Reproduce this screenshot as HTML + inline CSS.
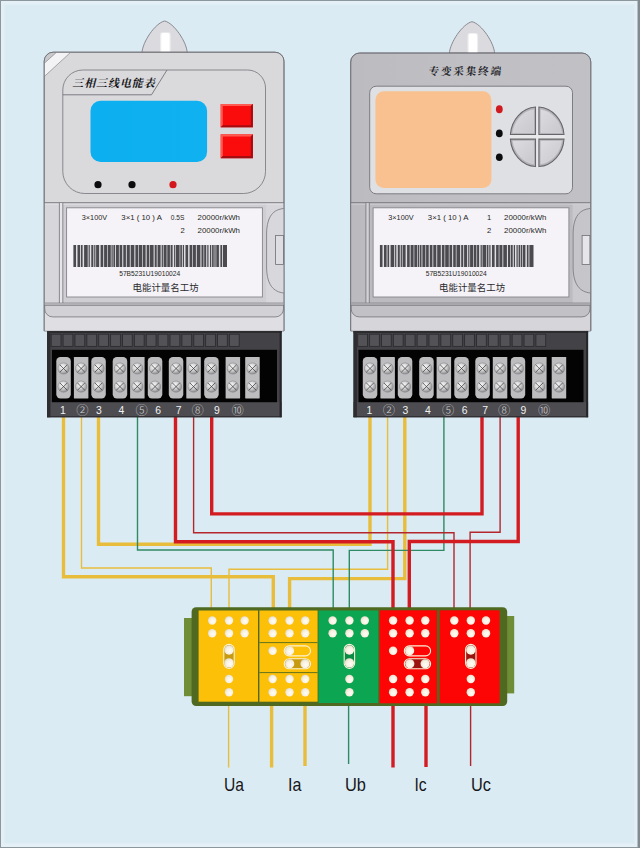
<!DOCTYPE html>
<html lang="zh-CN">
<head>
<meta charset="utf-8">
<title>三相三线电能表 专变采集终端 接线图</title>
<style>
html,body{margin:0;padding:0;background:#dbebf4;}
body{width:640px;height:848px;overflow:hidden;}
svg{display:block;}
.lat{font-family:"Liberation Sans","Noto Sans CJK SC",sans-serif;}
.cjk{font-family:"Liberation Sans","Noto Sans CJK SC",sans-serif;}
.kai{font-family:"Liberation Serif","Noto Serif CJK SC",serif;}
</style>
</head>
<body>
<svg width="640" height="848" viewBox="0 0 640 848">
<defs>
<radialGradient id="screw" cx="40%" cy="35%" r="70%">
<stop offset="0" stop-color="#fafafa"/><stop offset="0.5" stop-color="#cfcfcf"/><stop offset="1" stop-color="#858588"/>
</radialGradient>
<linearGradient id="lcd" x1="0" y1="0" x2="1" y2="0">
<stop offset="0" stop-color="#0cafef"/><stop offset="1" stop-color="#10b1f0"/>
</linearGradient>
<linearGradient id="m2body" x1="0" y1="0" x2="1" y2="0">
<stop offset="0" stop-color="#bcbcc0"/><stop offset="0.5" stop-color="#c0c0c4"/><stop offset="1" stop-color="#c1c1c5"/>
</linearGradient>
<linearGradient id="m2low" x1="0" y1="0" x2="1" y2="0">
<stop offset="0" stop-color="#bbbbbf"/><stop offset="0.5" stop-color="#c3c3c7"/><stop offset="1" stop-color="#cbcbcf"/>
</linearGradient>
<linearGradient id="quad" x1="0" y1="0" x2="1" y2="1">
<stop offset="0" stop-color="#dcdce0"/><stop offset="1" stop-color="#c9c9cd"/>
</linearGradient>
<radialGradient id="dotg" cx="58%" cy="60%" r="62%">
<stop offset="0" stop-color="#fffdf6"/><stop offset="0.6" stop-color="#f8f1e2"/><stop offset="1" stop-color="#e2dccb"/>
</radialGradient>
</defs>

<rect x="0" y="0" width="640" height="848" fill="#dbebf4"/>
<rect x="1" y="1" width="637" height="846" fill="none" stroke="#e4eff6" stroke-width="7"/>
<rect x="0.5" y="0.5" width="639" height="847" fill="none" stroke="#8b969d" stroke-width="1"/>
<rect x="638" y="0" width="2" height="848" fill="#7f8a92"/>
<rect x="637" y="1" width="1" height="846" fill="#b4bfc6"/>
<path d="M63.5 416 V576.8 H273.3 V610" fill="none" stroke="#e8bd3c" stroke-width="3.4" stroke-linejoin="miter"/>
<path d="M81.5 416 V568 H211.3 V610" fill="none" stroke="#e8bd3c" stroke-width="1.4" stroke-linejoin="miter"/>
<path d="M98.5 416 V544.2 H370 V416" fill="none" stroke="#e8bd3c" stroke-width="3.4" stroke-linejoin="miter"/>
<path d="M387.6 416 V569.3 H229 V610" fill="none" stroke="#e8bd3c" stroke-width="1.4" stroke-linejoin="miter"/>
<path d="M404.8 416 V578.6 H289.6 V610" fill="none" stroke="#e8bd3c" stroke-width="3.4" stroke-linejoin="miter"/>
<path d="M137.5 416 V550 H333.2 V610" fill="none" stroke="#2f8a63" stroke-width="1.4" stroke-linejoin="miter"/>
<path d="M443.9 416 V550.4 H349.3 V610" fill="none" stroke="#2f8a63" stroke-width="1.4" stroke-linejoin="miter"/>
<path d="M211.7 416 V513.9 H482 V416" fill="none" stroke="#d31c21" stroke-width="3.4" stroke-linejoin="miter"/>
<path d="M193.6 416 V532.8 H454 V610" fill="none" stroke="#b3262c" stroke-width="1.4" stroke-linejoin="miter"/>
<path d="M175.5 416 V541.8 H393 V610" fill="none" stroke="#d31c21" stroke-width="3.4" stroke-linejoin="miter"/>
<path d="M500.1 416 V532.2 H470.1 V610" fill="none" stroke="#b3262c" stroke-width="1.4" stroke-linejoin="miter"/>
<path d="M518.2 416 V541.5 H409.3 V610" fill="none" stroke="#d31c21" stroke-width="3.4" stroke-linejoin="miter"/>
<path d="M228.6 704 V767.5" fill="none" stroke="#e8bd3c" stroke-width="1.4" stroke-linejoin="miter"/>
<path d="M271.6 704 V767.5" fill="none" stroke="#e8bd3c" stroke-width="3.4" stroke-linejoin="miter"/>
<path d="M305 704 V766" fill="none" stroke="#e8bd3c" stroke-width="3.4" stroke-linejoin="miter"/>
<path d="M348.6 704 V764" fill="none" stroke="#2f8a63" stroke-width="1.4" stroke-linejoin="miter"/>
<path d="M393 704 V767.5" fill="none" stroke="#d31c21" stroke-width="3.4" stroke-linejoin="miter"/>
<path d="M426 704 V767" fill="none" stroke="#d31c21" stroke-width="3.4" stroke-linejoin="miter"/>
<path d="M470.6 704 V766" fill="none" stroke="#b3262c" stroke-width="1.4" stroke-linejoin="miter"/>
<g transform="translate(0,0)">
<g transform="translate(0,0)">
<path d="M142 52.5 C142.6 42 155 23.2 164.6 21 C174.2 23.2 186.6 42 187.2 52.5 Z" fill="#dbdbdf" stroke="#808087" stroke-width="0.9"/>
<path d="M160.1 52 V34.6 a2.4 2.4 0 0 1 2.4 -2.4 h5.8 a2.4 2.4 0 0 1 2.4 2.4 V52 Z" fill="#ededf0"/>
<path d="M161.3 52 V34.8 a1.8 1.8 0 0 1 1.8 -1.8 h4.6 a1.8 1.8 0 0 1 1.8 1.8 V52 Z" fill="#ffffff"/>
</g>
<path d="M44.2 331 V61.2 a9 9 0 0 1 9 -9 H275.0 a9 9 0 0 1 9 9 V331 Z" fill="#d9d9dc" stroke="#737379" stroke-width="0.85"/>
<clipPath id="bodyclip"><rect x="44.7" y="52.7" width="238.8" height="278" rx="8.5" ry="8.5"/></clipPath>
<g clip-path="url(#bodyclip)">
<polygon points="44,63.5 56.8,52 71,52 44,76.8" fill="#f3f3f6"/>
<polygon points="44,52 56.8,52 44,63.5" fill="#c9c9cd"/>
<path d="M44 63.5 L56.8 52 M44 76.8 L71 52" stroke="#88888c" stroke-width="0.7" fill="none"/>
</g>
<path d="M62.8 90 a20 20 0 0 1 20 -20 H247.5 a18 18 0 0 1 18 18 V171.5 a22 22 0 0 1 -22 22 H84.8 a22 22 0 0 1 -22 -22 Z" fill="#dadadd" stroke="#737379" stroke-width="0.8"/>
<path d="M62.8 94.8 H151.5 L167 70" fill="none" stroke="#737379" stroke-width="0.9"/>
<text class="kai" x="72.2" y="87.3" font-size="11" font-weight="700" fill="#141418" textLength="82.5" lengthAdjust="spacing" transform="translate(21.8,0) skewX(-14)">三相三线电能表</text>
<rect x="90.5" y="100.7" width="116.6" height="61.2" rx="10" ry="10" fill="url(#lcd)"/>
<rect x="220.7" y="104.0" width="32.2" height="23.3" fill="#fb0c0c"/>
<path d="M220.7 104.0 h32.2 l-2.1 2.1 h-28 v19.1 l-2.1 2.1 Z" fill="#ff5a52"/>
<path d="M252.9 104.0 v23.3 h-32.2 l2.1 -2.1 h28 v-19.1 Z" fill="#a30d10"/>
<rect x="220.7" y="134.3" width="32.2" height="23.9" fill="#fb0c0c"/>
<path d="M220.7 134.3 h32.2 l-2.1 2.1 h-28 v19.7 l-2.1 2.1 Z" fill="#ff5a52"/>
<path d="M252.9 134.3 v23.9 h-32.2 l2.1 -2.1 h28 v-19.7 Z" fill="#a30d10"/>
<circle cx="98" cy="184.7" r="3.6" fill="#0c0c0e"/>
<circle cx="132" cy="184.7" r="3.6" fill="#0c0c0e"/>
<circle cx="173" cy="184.7" r="3.6" fill="#d3171c"/>
<rect x="44.7" y="202.7" width="238.8" height="101" fill="#d7d7db"/>
<rect x="62.7" y="203" width="203.4" height="100" fill="#cfcfd3"/>
<path d="M44.7 204 H283.5" stroke="#e6e6ea" stroke-width="1"/>
<path d="M44.2 202.7 H284" stroke="#737379" stroke-width="0.9"/>
<rect x="59.4" y="203.2" width="3.4" height="100" fill="#e6e6ea"/>
<path d="M59.4 202.7 V303 M62.8 202.7 V303" stroke="#737379" stroke-width="0.8" fill="none"/>
<rect x="66.6" y="207.8" width="195.8" height="89.2" fill="#f5f3f7" stroke="#85858a" stroke-width="0.9"/>
<path d="M283.7 208.5 C273.5 209.5 267 216 266.6 233 V268 C267 285 273.5 291.8 283.7 293" fill="#d8d8dc" stroke="#737379" stroke-width="0.8"/>
<rect x="275.6" y="235.4" width="7.8" height="29" fill="#dedee2" stroke="#6e6e73" stroke-width="0.8"/>
<rect x="44.7" y="303" width="238.8" height="27.6" fill="#dfdfe3"/>
<path d="M44.7 305 H283.5 V308.9 a8 8 0 0 1 -8 8 H52.7 a8 8 0 0 1 -8 -8 Z" fill="#d2d2d6" stroke="#737379" stroke-width="0.8"/>
<rect x="44.7" y="303.4" width="238.8" height="1.4" fill="#e6e6ea"/>
<path d="M44.7 303.1 H283.5 M44.7 305 H283.5" stroke="#737379" stroke-width="0.8"/>
<path d="M44.2 330.8 V61.2 a9 9 0 0 1 9 -9 H275.0 a9 9 0 0 1 9 9 V330.8" fill="none" stroke="#737379" stroke-width="0.85"/>
<text class="lat" font-size="7.6" fill="#1f1f24" x="81.8" y="220.3" textLength="25.4" lengthAdjust="spacingAndGlyphs">3×100V</text>
<text class="lat" font-size="7.6" fill="#1f1f24" x="121.3" y="220.3" textLength="40.6" lengthAdjust="spacingAndGlyphs">3×1 ( 10 ) A</text>
<text class="lat" font-size="7.6" fill="#1f1f24" x="170.8" y="220.3" textLength="13.6" lengthAdjust="spacingAndGlyphs">0.5S</text>
<text class="lat" font-size="7.6" fill="#1f1f24" x="197.6" y="220.3" textLength="42.4" lengthAdjust="spacingAndGlyphs">20000r/kWh</text>
<text class="lat" font-size="7.6" fill="#1f1f24" x="180.6" y="233">2</text>
<text class="lat" font-size="7.6" fill="#1f1f24" x="197.6" y="233" textLength="42.4" lengthAdjust="spacingAndGlyphs">20000r/kWh</text>
<rect x="73.4" y="245" width="153.6" height="22" fill="#4a4a4f"/><rect x="76.0" y="245" width="1.5" height="22" fill="#dedee3"/><rect x="80.1" y="245" width="0.9" height="22" fill="#dedee3"/><rect x="82.6" y="245" width="1.5" height="22" fill="#dedee3"/><rect x="87.7" y="245" width="0.9" height="22" fill="#dedee3"/><rect x="89.8" y="245" width="1.5" height="22" fill="#dedee3"/><rect x="93.3" y="245" width="0.9" height="22" fill="#dedee3"/><rect x="95.4" y="245" width="0.7" height="22" fill="#dedee3"/><rect x="99.1" y="245" width="1.5" height="22" fill="#dedee3"/><rect x="103.2" y="245" width="0.9" height="22" fill="#dedee3"/><rect x="107.1" y="245" width="0.7" height="22" fill="#dedee3"/><rect x="110.8" y="245" width="0.7" height="22" fill="#dedee3"/><rect x="112.7" y="245" width="0.7" height="22" fill="#dedee3"/><rect x="115.0" y="245" width="0.9" height="22" fill="#dedee3"/><rect x="118.9" y="245" width="0.7" height="22" fill="#dedee3"/><rect x="122.2" y="245" width="1.1" height="22" fill="#dedee3"/><rect x="125.9" y="245" width="0.9" height="22" fill="#dedee3"/><rect x="129.8" y="245" width="0.9" height="22" fill="#dedee3"/><rect x="134.3" y="245" width="1.1" height="22" fill="#dedee3"/><rect x="138.0" y="245" width="0.7" height="22" fill="#dedee3"/><rect x="142.3" y="245" width="0.7" height="22" fill="#dedee3"/><rect x="145.6" y="245" width="1.1" height="22" fill="#dedee3"/><rect x="149.3" y="245" width="0.7" height="22" fill="#dedee3"/><rect x="153.6" y="245" width="1.1" height="22" fill="#dedee3"/><rect x="156.7" y="245" width="0.9" height="22" fill="#dedee3"/><rect x="160.6" y="245" width="1.1" height="22" fill="#dedee3"/><rect x="162.9" y="245" width="0.7" height="22" fill="#dedee3"/><rect x="166.6" y="245" width="0.7" height="22" fill="#dedee3"/><rect x="169.9" y="245" width="0.7" height="22" fill="#dedee3"/><rect x="172.6" y="245" width="1.5" height="22" fill="#dedee3"/><rect x="175.3" y="245" width="0.7" height="22" fill="#dedee3"/><rect x="179.6" y="245" width="0.7" height="22" fill="#dedee3"/><rect x="181.9" y="245" width="0.9" height="22" fill="#dedee3"/><rect x="184.0" y="245" width="1.5" height="22" fill="#dedee3"/><rect x="188.1" y="245" width="1.5" height="22" fill="#dedee3"/><rect x="192.2" y="245" width="0.7" height="22" fill="#dedee3"/><rect x="195.9" y="245" width="0.9" height="22" fill="#dedee3"/><rect x="200.4" y="245" width="1.1" height="22" fill="#dedee3"/><rect x="203.5" y="245" width="0.7" height="22" fill="#dedee3"/><rect x="206.2" y="245" width="1.1" height="22" fill="#dedee3"/><rect x="208.5" y="245" width="1.5" height="22" fill="#dedee3"/><rect x="211.2" y="245" width="0.9" height="22" fill="#dedee3"/><rect x="213.7" y="245" width="0.7" height="22" fill="#dedee3"/><rect x="215.6" y="245" width="0.7" height="22" fill="#dedee3"/><rect x="218.9" y="245" width="1.5" height="22" fill="#dedee3"/><rect x="222.0" y="245" width="0.9" height="22" fill="#dedee3"/>
<text class="lat" font-size="6.9" fill="#1e1e22" x="119.2" y="276" textLength="61" lengthAdjust="spacingAndGlyphs">57B5231U19010024</text>
<text class="cjk" font-size="9.3" fill="#2b2b30" x="132.6" y="291" textLength="66" lengthAdjust="spacingAndGlyphs">电能计量名工坊</text>
<rect x="47" y="331" width="234.6" height="86.2" fill="#434347"/>
<rect x="47" y="402" width="234.6" height="15.2" fill="#4c4c51"/>
<rect x="47" y="331" width="234.6" height="2" fill="#2c2c2f"/>
<rect x="47" y="331" width="3.4" height="86.2" fill="#2e2e31"/>
<rect x="279.6" y="331" width="2" height="86.2" fill="#26262a"/>
<rect x="47" y="416.2" width="234.6" height="1" fill="#2a2a2d"/>
<rect x="51.20" y="334.2" width="9.8" height="12.2" fill="#535357" stroke="#2c2c30" stroke-width="0.9"/>
<rect x="63.08" y="334.2" width="9.8" height="12.2" fill="#535357" stroke="#2c2c30" stroke-width="0.9"/>
<rect x="74.96" y="334.2" width="9.8" height="12.2" fill="#535357" stroke="#2c2c30" stroke-width="0.9"/>
<rect x="86.84" y="334.2" width="9.8" height="12.2" fill="#535357" stroke="#2c2c30" stroke-width="0.9"/>
<rect x="98.72" y="334.2" width="9.8" height="12.2" fill="#535357" stroke="#2c2c30" stroke-width="0.9"/>
<rect x="110.60" y="334.2" width="9.8" height="12.2" fill="#535357" stroke="#2c2c30" stroke-width="0.9"/>
<rect x="122.48" y="334.2" width="9.8" height="12.2" fill="#535357" stroke="#2c2c30" stroke-width="0.9"/>
<rect x="134.36" y="334.2" width="9.8" height="12.2" fill="#535357" stroke="#2c2c30" stroke-width="0.9"/>
<rect x="146.24" y="334.2" width="9.8" height="12.2" fill="#535357" stroke="#2c2c30" stroke-width="0.9"/>
<rect x="158.12" y="334.2" width="9.8" height="12.2" fill="#535357" stroke="#2c2c30" stroke-width="0.9"/>
<rect x="170.00" y="334.2" width="9.8" height="12.2" fill="#535357" stroke="#2c2c30" stroke-width="0.9"/>
<rect x="181.88" y="334.2" width="9.8" height="12.2" fill="#535357" stroke="#2c2c30" stroke-width="0.9"/>
<rect x="193.76" y="334.2" width="9.8" height="12.2" fill="#535357" stroke="#2c2c30" stroke-width="0.9"/>
<rect x="205.64" y="334.2" width="9.8" height="12.2" fill="#535357" stroke="#2c2c30" stroke-width="0.9"/>
<rect x="217.52" y="334.2" width="9.8" height="12.2" fill="#535357" stroke="#2c2c30" stroke-width="0.9"/>
<rect x="229.40" y="334.2" width="9.8" height="12.2" fill="#535357" stroke="#2c2c30" stroke-width="0.9"/>
<rect x="52" y="349.8" width="225" height="52.4" fill="#030303"/>
<rect x="56.3" y="357" width="14.5" height="41.5" rx="4.2" ry="4.2" fill="#bdbdc0"/>
<circle cx="63.55" cy="368.5" r="5.6" fill="url(#screw)" stroke="#7d7d82" stroke-width="0.5"/>
<path d="M59.849999999999994 364.8 l7.4 7.4 M67.25 364.8 l-7.4 7.4" stroke="#3c3c40" stroke-width="0.75" fill="none"/>
<circle cx="63.55" cy="386.6" r="5.6" fill="url(#screw)" stroke="#7d7d82" stroke-width="0.5"/>
<path d="M59.849999999999994 382.90000000000003 l7.4 7.4 M67.25 382.90000000000003 l-7.4 7.4" stroke="#3c3c40" stroke-width="0.75" fill="none"/>
<rect x="73.9" y="357" width="14.5" height="41.5" rx="0.4" ry="0.4" fill="#bdbdc0"/>
<circle cx="81.15" cy="368.5" r="5.6" fill="url(#screw)" stroke="#7d7d82" stroke-width="0.5"/>
<path d="M77.45 364.8 l7.4 7.4 M84.85000000000001 364.8 l-7.4 7.4" stroke="#3c3c40" stroke-width="0.75" fill="none"/>
<circle cx="81.15" cy="386.6" r="5.6" fill="url(#screw)" stroke="#7d7d82" stroke-width="0.5"/>
<path d="M77.45 382.90000000000003 l7.4 7.4 M84.85000000000001 382.90000000000003 l-7.4 7.4" stroke="#3c3c40" stroke-width="0.75" fill="none"/>
<rect x="91.3" y="357" width="14.5" height="41.5" rx="4.2" ry="4.2" fill="#bdbdc0"/>
<circle cx="98.55" cy="368.5" r="5.6" fill="url(#screw)" stroke="#7d7d82" stroke-width="0.5"/>
<path d="M94.85 364.8 l7.4 7.4 M102.25 364.8 l-7.4 7.4" stroke="#3c3c40" stroke-width="0.75" fill="none"/>
<circle cx="98.55" cy="386.6" r="5.6" fill="url(#screw)" stroke="#7d7d82" stroke-width="0.5"/>
<path d="M94.85 382.90000000000003 l7.4 7.4 M102.25 382.90000000000003 l-7.4 7.4" stroke="#3c3c40" stroke-width="0.75" fill="none"/>
<rect x="112.7" y="357" width="14.5" height="41.5" rx="4.2" ry="4.2" fill="#bdbdc0"/>
<circle cx="119.95" cy="368.5" r="5.6" fill="url(#screw)" stroke="#7d7d82" stroke-width="0.5"/>
<path d="M116.25 364.8 l7.4 7.4 M123.65 364.8 l-7.4 7.4" stroke="#3c3c40" stroke-width="0.75" fill="none"/>
<circle cx="119.95" cy="386.6" r="5.6" fill="url(#screw)" stroke="#7d7d82" stroke-width="0.5"/>
<path d="M116.25 382.90000000000003 l7.4 7.4 M123.65 382.90000000000003 l-7.4 7.4" stroke="#3c3c40" stroke-width="0.75" fill="none"/>
<rect x="130.1" y="357" width="14.5" height="41.5" rx="0.4" ry="0.4" fill="#bdbdc0"/>
<circle cx="137.35" cy="368.5" r="5.6" fill="url(#screw)" stroke="#7d7d82" stroke-width="0.5"/>
<path d="M133.65 364.8 l7.4 7.4 M141.04999999999998 364.8 l-7.4 7.4" stroke="#3c3c40" stroke-width="0.75" fill="none"/>
<circle cx="137.35" cy="386.6" r="5.6" fill="url(#screw)" stroke="#7d7d82" stroke-width="0.5"/>
<path d="M133.65 382.90000000000003 l7.4 7.4 M141.04999999999998 382.90000000000003 l-7.4 7.4" stroke="#3c3c40" stroke-width="0.75" fill="none"/>
<rect x="147.8" y="357" width="14.5" height="41.5" rx="4.2" ry="4.2" fill="#bdbdc0"/>
<circle cx="155.05" cy="368.5" r="5.6" fill="url(#screw)" stroke="#7d7d82" stroke-width="0.5"/>
<path d="M151.35000000000002 364.8 l7.4 7.4 M158.75 364.8 l-7.4 7.4" stroke="#3c3c40" stroke-width="0.75" fill="none"/>
<circle cx="155.05" cy="386.6" r="5.6" fill="url(#screw)" stroke="#7d7d82" stroke-width="0.5"/>
<path d="M151.35000000000002 382.90000000000003 l7.4 7.4 M158.75 382.90000000000003 l-7.4 7.4" stroke="#3c3c40" stroke-width="0.75" fill="none"/>
<rect x="168.8" y="357" width="14.5" height="41.5" rx="4.2" ry="4.2" fill="#bdbdc0"/>
<circle cx="176.05" cy="368.5" r="5.6" fill="url(#screw)" stroke="#7d7d82" stroke-width="0.5"/>
<path d="M172.35000000000002 364.8 l7.4 7.4 M179.75 364.8 l-7.4 7.4" stroke="#3c3c40" stroke-width="0.75" fill="none"/>
<circle cx="176.05" cy="386.6" r="5.6" fill="url(#screw)" stroke="#7d7d82" stroke-width="0.5"/>
<path d="M172.35000000000002 382.90000000000003 l7.4 7.4 M179.75 382.90000000000003 l-7.4 7.4" stroke="#3c3c40" stroke-width="0.75" fill="none"/>
<rect x="186.3" y="357" width="14.5" height="41.5" rx="0.4" ry="0.4" fill="#bdbdc0"/>
<circle cx="193.55" cy="368.5" r="5.6" fill="url(#screw)" stroke="#7d7d82" stroke-width="0.5"/>
<path d="M189.85000000000002 364.8 l7.4 7.4 M197.25 364.8 l-7.4 7.4" stroke="#3c3c40" stroke-width="0.75" fill="none"/>
<circle cx="193.55" cy="386.6" r="5.6" fill="url(#screw)" stroke="#7d7d82" stroke-width="0.5"/>
<path d="M189.85000000000002 382.90000000000003 l7.4 7.4 M197.25 382.90000000000003 l-7.4 7.4" stroke="#3c3c40" stroke-width="0.75" fill="none"/>
<rect x="204.2" y="357" width="14.5" height="41.5" rx="4.2" ry="4.2" fill="#bdbdc0"/>
<circle cx="211.45" cy="368.5" r="5.6" fill="url(#screw)" stroke="#7d7d82" stroke-width="0.5"/>
<path d="M207.75 364.8 l7.4 7.4 M215.14999999999998 364.8 l-7.4 7.4" stroke="#3c3c40" stroke-width="0.75" fill="none"/>
<circle cx="211.45" cy="386.6" r="5.6" fill="url(#screw)" stroke="#7d7d82" stroke-width="0.5"/>
<path d="M207.75 382.90000000000003 l7.4 7.4 M215.14999999999998 382.90000000000003 l-7.4 7.4" stroke="#3c3c40" stroke-width="0.75" fill="none"/>
<rect x="225.6" y="357" width="14.5" height="41.5" rx="0.4" ry="0.4" fill="#bdbdc0"/>
<circle cx="232.85" cy="368.5" r="5.6" fill="url(#screw)" stroke="#7d7d82" stroke-width="0.5"/>
<path d="M229.15 364.8 l7.4 7.4 M236.54999999999998 364.8 l-7.4 7.4" stroke="#3c3c40" stroke-width="0.75" fill="none"/>
<circle cx="232.85" cy="386.6" r="5.6" fill="url(#screw)" stroke="#7d7d82" stroke-width="0.5"/>
<path d="M229.15 382.90000000000003 l7.4 7.4 M236.54999999999998 382.90000000000003 l-7.4 7.4" stroke="#3c3c40" stroke-width="0.75" fill="none"/>
<rect x="245.2" y="357" width="14.5" height="41.5" rx="0.4" ry="0.4" fill="#bdbdc0"/>
<circle cx="252.45" cy="368.5" r="5.6" fill="url(#screw)" stroke="#7d7d82" stroke-width="0.5"/>
<path d="M248.75 364.8 l7.4 7.4 M256.15 364.8 l-7.4 7.4" stroke="#3c3c40" stroke-width="0.75" fill="none"/>
<circle cx="252.45" cy="386.6" r="5.6" fill="url(#screw)" stroke="#7d7d82" stroke-width="0.5"/>
<path d="M248.75 382.90000000000003 l7.4 7.4 M256.15 382.90000000000003 l-7.4 7.4" stroke="#3c3c40" stroke-width="0.75" fill="none"/>
<text class="lat" x="63" y="413.6" font-size="10.4" fill="#f2f2f2" text-anchor="middle">1</text>
<text class="lat" x="98.9" y="413.6" font-size="10.4" fill="#f2f2f2" text-anchor="middle">3</text>
<text class="lat" x="121.3" y="413.6" font-size="10.4" fill="#f2f2f2" text-anchor="middle">4</text>
<text class="lat" x="158.2" y="413.6" font-size="10.4" fill="#f2f2f2" text-anchor="middle">6</text>
<text class="lat" x="178.6" y="413.6" font-size="10.4" fill="#f2f2f2" text-anchor="middle">7</text>
<text class="lat" x="216.9" y="413.6" font-size="10.4" fill="#f2f2f2" text-anchor="middle">9</text>
<text class="cjk" x="82.3" y="414.6" font-size="12.3" font-weight="300" fill="#cdcdcd" text-anchor="middle">②</text>
<text class="cjk" x="141.6" y="414.6" font-size="12.3" font-weight="300" fill="#cdcdcd" text-anchor="middle">⑤</text>
<text class="cjk" x="197.6" y="414.6" font-size="12.3" font-weight="300" fill="#cdcdcd" text-anchor="middle">⑧</text>
<text class="cjk" x="237.7" y="414.6" font-size="12.3" font-weight="300" fill="#cdcdcd" text-anchor="middle">⑩</text>
</g>
<g transform="translate(306.5,0)">
<g transform="translate(0.9,0.7)">
<path d="M142 52.5 C142.6 42 155 23.2 164.6 21 C174.2 23.2 186.6 42 187.2 52.5 Z" fill="#dbdbdf" stroke="#808087" stroke-width="0.9"/>
<path d="M160.1 52 V34.6 a2.4 2.4 0 0 1 2.4 -2.4 h5.8 a2.4 2.4 0 0 1 2.4 2.4 V52 Z" fill="#ededf0"/>
<path d="M161.3 52 V34.8 a1.8 1.8 0 0 1 1.8 -1.8 h4.6 a1.8 1.8 0 0 1 1.8 1.8 V52 Z" fill="#ffffff"/>
</g>
<path d="M44.2 331 V62.0 a9 9 0 0 1 9 -9 H275.3 a9 9 0 0 1 9 9 V331 Z" fill="url(#m2body)" stroke="#737379" stroke-width="0.85"/>
<text class="kai" x="122.2" y="74.8" font-size="10.6" font-weight="700" fill="#26262b" textLength="72.4" lengthAdjust="spacing" transform="translate(7.5,0) skewX(-6)">专变采集终端</text>
<rect x="63.2" y="86.2" width="202.8" height="107.6" rx="6.5" ry="6.5" fill="#dfe0e4" stroke="#737379" stroke-width="0.9"/>
<rect x="68.9" y="91.3" width="116" height="96.8" rx="8.5" ry="8.5" fill="#f9c190"/>
<ellipse cx="192.8" cy="109.2" rx="3.4" ry="4" fill="#cf1b1f"/>
<ellipse cx="192.8" cy="133.4" rx="3.4" ry="3.8" fill="#0c0c0e"/>
<ellipse cx="192.8" cy="157.2" rx="3.4" ry="3.8" fill="#0c0c0e"/>
<ellipse cx="230.7" cy="136.8" rx="27.9" ry="30.8" fill="#e8e8eb"/>
<path d="M229.00 134.50 L203.88 134.50 A26.90 29.80 0 0 1 229.00 107.06 Z" fill="#b4b4b8" stroke="#66666b" stroke-width="1.1"/>
<path d="M227.00 132.50 L206.31 132.50 A24.70 27.36 0 0 1 227.00 109.75 Z" fill="url(#quad)" stroke="#dcdce0" stroke-width="0.5"/>
<path d="M232.40 134.50 L257.52 134.50 A26.90 29.80 0 0 0 232.40 107.06 Z" fill="#b4b4b8" stroke="#66666b" stroke-width="1.1"/>
<path d="M234.40 132.50 L255.09 132.50 A24.70 27.36 0 0 0 234.40 109.75 Z" fill="url(#quad)" stroke="#dcdce0" stroke-width="0.5"/>
<path d="M229.00 139.10 L203.88 139.10 A26.90 29.80 0 0 0 229.00 166.54 Z" fill="#b4b4b8" stroke="#66666b" stroke-width="1.1"/>
<path d="M227.00 141.10 L206.31 141.10 A24.70 27.36 0 0 0 227.00 163.85 Z" fill="url(#quad)" stroke="#dcdce0" stroke-width="0.5"/>
<path d="M232.40 139.10 L257.52 139.10 A26.90 29.80 0 0 1 232.40 166.54 Z" fill="#b4b4b8" stroke="#66666b" stroke-width="1.1"/>
<path d="M234.40 141.10 L255.09 141.10 A24.70 27.36 0 0 1 234.40 163.85 Z" fill="url(#quad)" stroke="#dcdce0" stroke-width="0.5"/>
<rect x="44.7" y="202.7" width="238.8" height="101" fill="url(#m2low)"/>
<rect x="62.7" y="203" width="203.4" height="100" fill="#bcbcc0"/>
<path d="M44.7 204 H283.5" stroke="#d2d2d6" stroke-width="1"/>
<path d="M44.2 202.7 H284" stroke="#737379" stroke-width="0.9"/>
<rect x="59.4" y="203.2" width="3.4" height="100" fill="#d2d2d6"/>
<path d="M59.4 202.7 V303 M62.8 202.7 V303" stroke="#737379" stroke-width="0.8" fill="none"/>
<rect x="66.6" y="207.8" width="195.8" height="89.2" fill="#f5f3f7" stroke="#85858a" stroke-width="0.9"/>
<path d="M283.7 208.5 C273.5 209.5 267 216 266.6 233 V268 C267 285 273.5 291.8 283.7 293" fill="#c6c6ca" stroke="#737379" stroke-width="0.8"/>
<rect x="275.6" y="235.4" width="7.8" height="29" fill="#e6e6ea" stroke="#6e6e73" stroke-width="0.8"/>
<rect x="44.7" y="303" width="238.8" height="27.6" fill="#d6d6da"/>
<path d="M44.7 305 H283.5 V308.9 a8 8 0 0 1 -8 8 H52.7 a8 8 0 0 1 -8 -8 Z" fill="#c2c2c6" stroke="#737379" stroke-width="0.8"/>
<rect x="44.7" y="303.4" width="238.8" height="1.4" fill="#d2d2d6"/>
<path d="M44.7 303.1 H283.5 M44.7 305 H283.5" stroke="#737379" stroke-width="0.8"/>
<path d="M44.2 330.8 V62.0 a9 9 0 0 1 9 -9 H275.3 a9 9 0 0 1 9 9 V330.8" fill="none" stroke="#737379" stroke-width="0.85"/>
<text class="lat" font-size="7.6" fill="#1f1f24" x="81.8" y="220.3" textLength="25.4" lengthAdjust="spacingAndGlyphs">3×100V</text>
<text class="lat" font-size="7.6" fill="#1f1f24" x="121.3" y="220.3" textLength="40.6" lengthAdjust="spacingAndGlyphs">3×1 ( 10 ) A</text>
<text class="lat" font-size="7.6" fill="#1f1f24" x="180.6" y="220.3">1</text>
<text class="lat" font-size="7.6" fill="#1f1f24" x="197.6" y="220.3" textLength="42.4" lengthAdjust="spacingAndGlyphs">20000r/kWh</text>
<text class="lat" font-size="7.6" fill="#1f1f24" x="180.6" y="233">2</text>
<text class="lat" font-size="7.6" fill="#1f1f24" x="197.6" y="233" textLength="42.4" lengthAdjust="spacingAndGlyphs">20000r/kWh</text>
<rect x="73.4" y="245" width="153.6" height="22" fill="#4a4a4f"/><rect x="76.0" y="245" width="1.5" height="22" fill="#dedee3"/><rect x="80.1" y="245" width="0.9" height="22" fill="#dedee3"/><rect x="82.6" y="245" width="1.5" height="22" fill="#dedee3"/><rect x="87.7" y="245" width="0.9" height="22" fill="#dedee3"/><rect x="89.8" y="245" width="1.5" height="22" fill="#dedee3"/><rect x="93.3" y="245" width="0.9" height="22" fill="#dedee3"/><rect x="95.4" y="245" width="0.7" height="22" fill="#dedee3"/><rect x="99.1" y="245" width="1.5" height="22" fill="#dedee3"/><rect x="103.2" y="245" width="0.9" height="22" fill="#dedee3"/><rect x="107.1" y="245" width="0.7" height="22" fill="#dedee3"/><rect x="110.8" y="245" width="0.7" height="22" fill="#dedee3"/><rect x="112.7" y="245" width="0.7" height="22" fill="#dedee3"/><rect x="115.0" y="245" width="0.9" height="22" fill="#dedee3"/><rect x="118.9" y="245" width="0.7" height="22" fill="#dedee3"/><rect x="122.2" y="245" width="1.1" height="22" fill="#dedee3"/><rect x="125.9" y="245" width="0.9" height="22" fill="#dedee3"/><rect x="129.8" y="245" width="0.9" height="22" fill="#dedee3"/><rect x="134.3" y="245" width="1.1" height="22" fill="#dedee3"/><rect x="138.0" y="245" width="0.7" height="22" fill="#dedee3"/><rect x="142.3" y="245" width="0.7" height="22" fill="#dedee3"/><rect x="145.6" y="245" width="1.1" height="22" fill="#dedee3"/><rect x="149.3" y="245" width="0.7" height="22" fill="#dedee3"/><rect x="153.6" y="245" width="1.1" height="22" fill="#dedee3"/><rect x="156.7" y="245" width="0.9" height="22" fill="#dedee3"/><rect x="160.6" y="245" width="1.1" height="22" fill="#dedee3"/><rect x="162.9" y="245" width="0.7" height="22" fill="#dedee3"/><rect x="166.6" y="245" width="0.7" height="22" fill="#dedee3"/><rect x="169.9" y="245" width="0.7" height="22" fill="#dedee3"/><rect x="172.6" y="245" width="1.5" height="22" fill="#dedee3"/><rect x="175.3" y="245" width="0.7" height="22" fill="#dedee3"/><rect x="179.6" y="245" width="0.7" height="22" fill="#dedee3"/><rect x="181.9" y="245" width="0.9" height="22" fill="#dedee3"/><rect x="184.0" y="245" width="1.5" height="22" fill="#dedee3"/><rect x="188.1" y="245" width="1.5" height="22" fill="#dedee3"/><rect x="192.2" y="245" width="0.7" height="22" fill="#dedee3"/><rect x="195.9" y="245" width="0.9" height="22" fill="#dedee3"/><rect x="200.4" y="245" width="1.1" height="22" fill="#dedee3"/><rect x="203.5" y="245" width="0.7" height="22" fill="#dedee3"/><rect x="206.2" y="245" width="1.1" height="22" fill="#dedee3"/><rect x="208.5" y="245" width="1.5" height="22" fill="#dedee3"/><rect x="211.2" y="245" width="0.9" height="22" fill="#dedee3"/><rect x="213.7" y="245" width="0.7" height="22" fill="#dedee3"/><rect x="215.6" y="245" width="0.7" height="22" fill="#dedee3"/><rect x="218.9" y="245" width="1.5" height="22" fill="#dedee3"/><rect x="222.0" y="245" width="0.9" height="22" fill="#dedee3"/>
<text class="lat" font-size="6.9" fill="#1e1e22" x="119.2" y="276" textLength="61" lengthAdjust="spacingAndGlyphs">57B5231U19010024</text>
<text class="cjk" font-size="9.3" fill="#2b2b30" x="132.6" y="291" textLength="66" lengthAdjust="spacingAndGlyphs">电能计量名工坊</text>
<rect x="47" y="331" width="234.6" height="86.2" fill="#434347"/>
<rect x="47" y="402" width="234.6" height="15.2" fill="#4c4c51"/>
<rect x="47" y="331" width="234.6" height="2" fill="#2c2c2f"/>
<rect x="47" y="331" width="3.4" height="86.2" fill="#2e2e31"/>
<rect x="279.6" y="331" width="2" height="86.2" fill="#26262a"/>
<rect x="47" y="416.2" width="234.6" height="1" fill="#2a2a2d"/>
<rect x="51.20" y="334.2" width="9.8" height="12.2" fill="#535357" stroke="#2c2c30" stroke-width="0.9"/>
<rect x="63.08" y="334.2" width="9.8" height="12.2" fill="#535357" stroke="#2c2c30" stroke-width="0.9"/>
<rect x="74.96" y="334.2" width="9.8" height="12.2" fill="#535357" stroke="#2c2c30" stroke-width="0.9"/>
<rect x="86.84" y="334.2" width="9.8" height="12.2" fill="#535357" stroke="#2c2c30" stroke-width="0.9"/>
<rect x="98.72" y="334.2" width="9.8" height="12.2" fill="#535357" stroke="#2c2c30" stroke-width="0.9"/>
<rect x="110.60" y="334.2" width="9.8" height="12.2" fill="#535357" stroke="#2c2c30" stroke-width="0.9"/>
<rect x="122.48" y="334.2" width="9.8" height="12.2" fill="#535357" stroke="#2c2c30" stroke-width="0.9"/>
<rect x="134.36" y="334.2" width="9.8" height="12.2" fill="#535357" stroke="#2c2c30" stroke-width="0.9"/>
<rect x="146.24" y="334.2" width="9.8" height="12.2" fill="#535357" stroke="#2c2c30" stroke-width="0.9"/>
<rect x="158.12" y="334.2" width="9.8" height="12.2" fill="#535357" stroke="#2c2c30" stroke-width="0.9"/>
<rect x="170.00" y="334.2" width="9.8" height="12.2" fill="#535357" stroke="#2c2c30" stroke-width="0.9"/>
<rect x="181.88" y="334.2" width="9.8" height="12.2" fill="#535357" stroke="#2c2c30" stroke-width="0.9"/>
<rect x="193.76" y="334.2" width="9.8" height="12.2" fill="#535357" stroke="#2c2c30" stroke-width="0.9"/>
<rect x="205.64" y="334.2" width="9.8" height="12.2" fill="#535357" stroke="#2c2c30" stroke-width="0.9"/>
<rect x="217.52" y="334.2" width="9.8" height="12.2" fill="#535357" stroke="#2c2c30" stroke-width="0.9"/>
<rect x="229.40" y="334.2" width="9.8" height="12.2" fill="#535357" stroke="#2c2c30" stroke-width="0.9"/>
<rect x="52" y="349.8" width="225" height="52.4" fill="#030303"/>
<rect x="56.3" y="357" width="14.5" height="41.5" rx="4.2" ry="4.2" fill="#bdbdc0"/>
<circle cx="63.55" cy="368.5" r="5.6" fill="url(#screw)" stroke="#7d7d82" stroke-width="0.5"/>
<path d="M59.849999999999994 364.8 l7.4 7.4 M67.25 364.8 l-7.4 7.4" stroke="#3c3c40" stroke-width="0.75" fill="none"/>
<circle cx="63.55" cy="386.6" r="5.6" fill="url(#screw)" stroke="#7d7d82" stroke-width="0.5"/>
<path d="M59.849999999999994 382.90000000000003 l7.4 7.4 M67.25 382.90000000000003 l-7.4 7.4" stroke="#3c3c40" stroke-width="0.75" fill="none"/>
<rect x="73.9" y="357" width="14.5" height="41.5" rx="0.4" ry="0.4" fill="#bdbdc0"/>
<circle cx="81.15" cy="368.5" r="5.6" fill="url(#screw)" stroke="#7d7d82" stroke-width="0.5"/>
<path d="M77.45 364.8 l7.4 7.4 M84.85000000000001 364.8 l-7.4 7.4" stroke="#3c3c40" stroke-width="0.75" fill="none"/>
<circle cx="81.15" cy="386.6" r="5.6" fill="url(#screw)" stroke="#7d7d82" stroke-width="0.5"/>
<path d="M77.45 382.90000000000003 l7.4 7.4 M84.85000000000001 382.90000000000003 l-7.4 7.4" stroke="#3c3c40" stroke-width="0.75" fill="none"/>
<rect x="91.3" y="357" width="14.5" height="41.5" rx="4.2" ry="4.2" fill="#bdbdc0"/>
<circle cx="98.55" cy="368.5" r="5.6" fill="url(#screw)" stroke="#7d7d82" stroke-width="0.5"/>
<path d="M94.85 364.8 l7.4 7.4 M102.25 364.8 l-7.4 7.4" stroke="#3c3c40" stroke-width="0.75" fill="none"/>
<circle cx="98.55" cy="386.6" r="5.6" fill="url(#screw)" stroke="#7d7d82" stroke-width="0.5"/>
<path d="M94.85 382.90000000000003 l7.4 7.4 M102.25 382.90000000000003 l-7.4 7.4" stroke="#3c3c40" stroke-width="0.75" fill="none"/>
<rect x="112.7" y="357" width="14.5" height="41.5" rx="4.2" ry="4.2" fill="#bdbdc0"/>
<circle cx="119.95" cy="368.5" r="5.6" fill="url(#screw)" stroke="#7d7d82" stroke-width="0.5"/>
<path d="M116.25 364.8 l7.4 7.4 M123.65 364.8 l-7.4 7.4" stroke="#3c3c40" stroke-width="0.75" fill="none"/>
<circle cx="119.95" cy="386.6" r="5.6" fill="url(#screw)" stroke="#7d7d82" stroke-width="0.5"/>
<path d="M116.25 382.90000000000003 l7.4 7.4 M123.65 382.90000000000003 l-7.4 7.4" stroke="#3c3c40" stroke-width="0.75" fill="none"/>
<rect x="130.1" y="357" width="14.5" height="41.5" rx="0.4" ry="0.4" fill="#bdbdc0"/>
<circle cx="137.35" cy="368.5" r="5.6" fill="url(#screw)" stroke="#7d7d82" stroke-width="0.5"/>
<path d="M133.65 364.8 l7.4 7.4 M141.04999999999998 364.8 l-7.4 7.4" stroke="#3c3c40" stroke-width="0.75" fill="none"/>
<circle cx="137.35" cy="386.6" r="5.6" fill="url(#screw)" stroke="#7d7d82" stroke-width="0.5"/>
<path d="M133.65 382.90000000000003 l7.4 7.4 M141.04999999999998 382.90000000000003 l-7.4 7.4" stroke="#3c3c40" stroke-width="0.75" fill="none"/>
<rect x="147.8" y="357" width="14.5" height="41.5" rx="4.2" ry="4.2" fill="#bdbdc0"/>
<circle cx="155.05" cy="368.5" r="5.6" fill="url(#screw)" stroke="#7d7d82" stroke-width="0.5"/>
<path d="M151.35000000000002 364.8 l7.4 7.4 M158.75 364.8 l-7.4 7.4" stroke="#3c3c40" stroke-width="0.75" fill="none"/>
<circle cx="155.05" cy="386.6" r="5.6" fill="url(#screw)" stroke="#7d7d82" stroke-width="0.5"/>
<path d="M151.35000000000002 382.90000000000003 l7.4 7.4 M158.75 382.90000000000003 l-7.4 7.4" stroke="#3c3c40" stroke-width="0.75" fill="none"/>
<rect x="168.8" y="357" width="14.5" height="41.5" rx="4.2" ry="4.2" fill="#bdbdc0"/>
<circle cx="176.05" cy="368.5" r="5.6" fill="url(#screw)" stroke="#7d7d82" stroke-width="0.5"/>
<path d="M172.35000000000002 364.8 l7.4 7.4 M179.75 364.8 l-7.4 7.4" stroke="#3c3c40" stroke-width="0.75" fill="none"/>
<circle cx="176.05" cy="386.6" r="5.6" fill="url(#screw)" stroke="#7d7d82" stroke-width="0.5"/>
<path d="M172.35000000000002 382.90000000000003 l7.4 7.4 M179.75 382.90000000000003 l-7.4 7.4" stroke="#3c3c40" stroke-width="0.75" fill="none"/>
<rect x="186.3" y="357" width="14.5" height="41.5" rx="0.4" ry="0.4" fill="#bdbdc0"/>
<circle cx="193.55" cy="368.5" r="5.6" fill="url(#screw)" stroke="#7d7d82" stroke-width="0.5"/>
<path d="M189.85000000000002 364.8 l7.4 7.4 M197.25 364.8 l-7.4 7.4" stroke="#3c3c40" stroke-width="0.75" fill="none"/>
<circle cx="193.55" cy="386.6" r="5.6" fill="url(#screw)" stroke="#7d7d82" stroke-width="0.5"/>
<path d="M189.85000000000002 382.90000000000003 l7.4 7.4 M197.25 382.90000000000003 l-7.4 7.4" stroke="#3c3c40" stroke-width="0.75" fill="none"/>
<rect x="204.2" y="357" width="14.5" height="41.5" rx="4.2" ry="4.2" fill="#bdbdc0"/>
<circle cx="211.45" cy="368.5" r="5.6" fill="url(#screw)" stroke="#7d7d82" stroke-width="0.5"/>
<path d="M207.75 364.8 l7.4 7.4 M215.14999999999998 364.8 l-7.4 7.4" stroke="#3c3c40" stroke-width="0.75" fill="none"/>
<circle cx="211.45" cy="386.6" r="5.6" fill="url(#screw)" stroke="#7d7d82" stroke-width="0.5"/>
<path d="M207.75 382.90000000000003 l7.4 7.4 M215.14999999999998 382.90000000000003 l-7.4 7.4" stroke="#3c3c40" stroke-width="0.75" fill="none"/>
<rect x="225.6" y="357" width="14.5" height="41.5" rx="0.4" ry="0.4" fill="#bdbdc0"/>
<circle cx="232.85" cy="368.5" r="5.6" fill="url(#screw)" stroke="#7d7d82" stroke-width="0.5"/>
<path d="M229.15 364.8 l7.4 7.4 M236.54999999999998 364.8 l-7.4 7.4" stroke="#3c3c40" stroke-width="0.75" fill="none"/>
<circle cx="232.85" cy="386.6" r="5.6" fill="url(#screw)" stroke="#7d7d82" stroke-width="0.5"/>
<path d="M229.15 382.90000000000003 l7.4 7.4 M236.54999999999998 382.90000000000003 l-7.4 7.4" stroke="#3c3c40" stroke-width="0.75" fill="none"/>
<rect x="245.2" y="357" width="14.5" height="41.5" rx="0.4" ry="0.4" fill="#bdbdc0"/>
<circle cx="252.45" cy="368.5" r="5.6" fill="url(#screw)" stroke="#7d7d82" stroke-width="0.5"/>
<path d="M248.75 364.8 l7.4 7.4 M256.15 364.8 l-7.4 7.4" stroke="#3c3c40" stroke-width="0.75" fill="none"/>
<circle cx="252.45" cy="386.6" r="5.6" fill="url(#screw)" stroke="#7d7d82" stroke-width="0.5"/>
<path d="M248.75 382.90000000000003 l7.4 7.4 M256.15 382.90000000000003 l-7.4 7.4" stroke="#3c3c40" stroke-width="0.75" fill="none"/>
<text class="lat" x="63" y="413.6" font-size="10.4" fill="#f2f2f2" text-anchor="middle">1</text>
<text class="lat" x="98.9" y="413.6" font-size="10.4" fill="#f2f2f2" text-anchor="middle">3</text>
<text class="lat" x="121.3" y="413.6" font-size="10.4" fill="#f2f2f2" text-anchor="middle">4</text>
<text class="lat" x="158.2" y="413.6" font-size="10.4" fill="#f2f2f2" text-anchor="middle">6</text>
<text class="lat" x="178.6" y="413.6" font-size="10.4" fill="#f2f2f2" text-anchor="middle">7</text>
<text class="lat" x="216.9" y="413.6" font-size="10.4" fill="#f2f2f2" text-anchor="middle">9</text>
<text class="cjk" x="82.3" y="414.6" font-size="12.3" font-weight="300" fill="#cdcdcd" text-anchor="middle">②</text>
<text class="cjk" x="141.6" y="414.6" font-size="12.3" font-weight="300" fill="#cdcdcd" text-anchor="middle">⑤</text>
<text class="cjk" x="197.6" y="414.6" font-size="12.3" font-weight="300" fill="#cdcdcd" text-anchor="middle">⑧</text>
<text class="cjk" x="237.7" y="414.6" font-size="12.3" font-weight="300" fill="#cdcdcd" text-anchor="middle">⑩</text>
</g>
<rect x="184" y="618" width="9" height="78.2" fill="#6f8c36"/>
<rect x="505" y="616" width="9.2" height="77.4" fill="#6f8c36"/>
<rect x="191.6" y="607.2" width="315.6" height="98.8" rx="4.5" ry="4.5" fill="#4f6a20"/>
<rect x="198.6" y="610.5" width="59.4" height="91.20000000000005" fill="#fcc008"/>
<rect x="259.4" y="610.5" width="58.2" height="91.20000000000005" fill="#fcc008"/>
<path d="M259.4 642.6 H317.6 M259.4 672.6 H317.6" stroke="#4f6a20" stroke-width="0.9"/>
<rect x="318.4" y="610.5" width="59.8" height="92.5" fill="#0ca551"/>
<rect x="379.6" y="610.3" width="57.4" height="92.99999999999996" fill="#fe0505"/>
<rect x="439.6" y="610.3" width="60" height="92.99999999999996" fill="#fe0505"/>
<circle cx="212.2" cy="620.5" r="4.2" fill="url(#dotg)"/><circle cx="229" cy="620.5" r="4.2" fill="url(#dotg)"/><circle cx="244.6" cy="620.5" r="4.2" fill="url(#dotg)"/><circle cx="212.2" cy="633.2" r="4.2" fill="url(#dotg)"/><circle cx="229" cy="633.2" r="4.2" fill="url(#dotg)"/><circle cx="244.6" cy="633.2" r="4.2" fill="url(#dotg)"/><rect x="223.8" y="644.4" width="10.4" height="24" rx="5.2" ry="5.2" fill="#c79a10" stroke="#fbf3d8" stroke-width="1.1"/><circle cx="229" cy="650.0" r="4.7" fill="url(#dotg)"/><circle cx="229" cy="662.9" r="4.7" fill="url(#dotg)"/><circle cx="229" cy="679.0" r="4.2" fill="url(#dotg)"/><circle cx="229" cy="692.2" r="4.2" fill="url(#dotg)"/>
<circle cx="272.6" cy="620.5" r="4.2" fill="url(#dotg)"/><circle cx="289.5" cy="620.5" r="4.2" fill="url(#dotg)"/><circle cx="305.2" cy="620.5" r="4.2" fill="url(#dotg)"/><circle cx="272.6" cy="633.2" r="4.2" fill="url(#dotg)"/><circle cx="289.5" cy="633.2" r="4.2" fill="url(#dotg)"/><circle cx="305.2" cy="633.2" r="4.2" fill="url(#dotg)"/><circle cx="272.6" cy="679.0" r="4.2" fill="url(#dotg)"/><circle cx="289.5" cy="679.0" r="4.2" fill="url(#dotg)"/><circle cx="305.2" cy="679.0" r="4.2" fill="url(#dotg)"/><circle cx="272.6" cy="692.2" r="4.2" fill="url(#dotg)"/><circle cx="289.5" cy="692.2" r="4.2" fill="url(#dotg)"/><circle cx="305.2" cy="692.2" r="4.2" fill="url(#dotg)"/><circle cx="272.6" cy="650.8" r="4.2" fill="url(#dotg)"/><rect x="284.2" y="645.9" width="26.29999999999999" height="10" rx="5" ry="5" fill="none" stroke="#fbf3d8" stroke-width="1.1"/><circle cx="289.5" cy="650.8" r="4.6" fill="url(#dotg)"/><rect x="284.2" y="658.8" width="26.29999999999999" height="10" rx="5" ry="5" fill="#c79a10" stroke="#fbf3d8" stroke-width="1.1"/><circle cx="289.7" cy="663.8" r="4.6" fill="url(#dotg)"/><circle cx="305.0" cy="663.8" r="4.6" fill="url(#dotg)"/>
<circle cx="332.6" cy="620.5" r="4.2" fill="url(#dotg)"/><circle cx="349.4" cy="620.5" r="4.2" fill="url(#dotg)"/><circle cx="364.8" cy="620.5" r="4.2" fill="url(#dotg)"/><circle cx="332.6" cy="633.2" r="4.2" fill="url(#dotg)"/><circle cx="349.4" cy="633.2" r="4.2" fill="url(#dotg)"/><circle cx="364.8" cy="633.2" r="4.2" fill="url(#dotg)"/><rect x="344.2" y="644.4" width="10.4" height="24" rx="5.2" ry="5.2" fill="#0b8a44" stroke="#fbf3d8" stroke-width="1.1"/><circle cx="349.4" cy="650.0" r="4.7" fill="url(#dotg)"/><circle cx="349.4" cy="662.9" r="4.7" fill="url(#dotg)"/><circle cx="349.4" cy="679.0" r="4.2" fill="url(#dotg)"/><circle cx="349.4" cy="692.2" r="4.2" fill="url(#dotg)"/>
<circle cx="393.1" cy="620.5" r="4.2" fill="url(#dotg)"/><circle cx="409.6" cy="620.5" r="4.2" fill="url(#dotg)"/><circle cx="425.3" cy="620.5" r="4.2" fill="url(#dotg)"/><circle cx="393.1" cy="633.2" r="4.2" fill="url(#dotg)"/><circle cx="409.6" cy="633.2" r="4.2" fill="url(#dotg)"/><circle cx="425.3" cy="633.2" r="4.2" fill="url(#dotg)"/><circle cx="393.1" cy="679.0" r="4.2" fill="url(#dotg)"/><circle cx="409.6" cy="679.0" r="4.2" fill="url(#dotg)"/><circle cx="425.3" cy="679.0" r="4.2" fill="url(#dotg)"/><circle cx="393.1" cy="692.2" r="4.2" fill="url(#dotg)"/><circle cx="409.6" cy="692.2" r="4.2" fill="url(#dotg)"/><circle cx="425.3" cy="692.2" r="4.2" fill="url(#dotg)"/><circle cx="393.1" cy="650.8" r="4.2" fill="url(#dotg)"/><rect x="404.3" y="645.9" width="26.29999999999999" height="10" rx="5" ry="5" fill="none" stroke="#fbf3d8" stroke-width="1.1"/><circle cx="409.6" cy="650.8" r="4.6" fill="url(#dotg)"/><rect x="404.3" y="658.8" width="26.29999999999999" height="10" rx="5" ry="5" fill="#9c1410" stroke="#fbf3d8" stroke-width="1.1"/><circle cx="409.8" cy="663.8" r="4.6" fill="url(#dotg)"/><circle cx="425.1" cy="663.8" r="4.6" fill="url(#dotg)"/>
<circle cx="454.3" cy="620.5" r="4.2" fill="url(#dotg)"/><circle cx="470.8" cy="620.5" r="4.2" fill="url(#dotg)"/><circle cx="486" cy="620.5" r="4.2" fill="url(#dotg)"/><circle cx="454.3" cy="633.2" r="4.2" fill="url(#dotg)"/><circle cx="470.8" cy="633.2" r="4.2" fill="url(#dotg)"/><circle cx="486" cy="633.2" r="4.2" fill="url(#dotg)"/><rect x="465.6" y="644.4" width="10.4" height="24" rx="5.2" ry="5.2" fill="#9c1410" stroke="#fbf3d8" stroke-width="1.1"/><circle cx="470.8" cy="650.0" r="4.7" fill="url(#dotg)"/><circle cx="470.8" cy="662.9" r="4.7" fill="url(#dotg)"/><circle cx="470.8" cy="679.0" r="4.2" fill="url(#dotg)"/><circle cx="470.8" cy="692.2" r="4.2" fill="url(#dotg)"/>
<text class="lat" font-size="18.6" fill="#17171a" x="224" y="791" textLength="20" lengthAdjust="spacingAndGlyphs">Ua</text>
<text class="lat" font-size="18.6" fill="#17171a" x="288" y="791" textLength="13.4" lengthAdjust="spacingAndGlyphs">Ia</text>
<text class="lat" font-size="18.6" fill="#17171a" x="345" y="791" textLength="21" lengthAdjust="spacingAndGlyphs">Ub</text>
<text class="lat" font-size="18.6" fill="#17171a" x="414.4" y="791" textLength="12.2" lengthAdjust="spacingAndGlyphs">Ic</text>
<text class="lat" font-size="18.6" fill="#17171a" x="471" y="791" textLength="20" lengthAdjust="spacingAndGlyphs">Uc</text>
</svg>
</body>
</html>
